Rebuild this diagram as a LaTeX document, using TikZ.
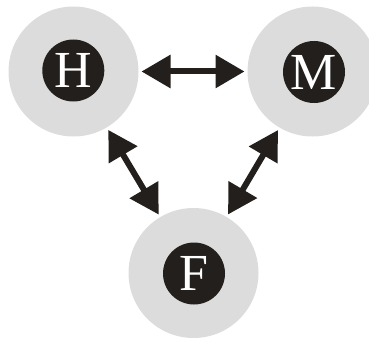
\documentclass[tikz,border=0pt]{standalone}
\usepackage{fontspec}
\setmainfont{Liberation Serif}
\usetikzlibrary{arrows.meta}
\definecolor{ringgray}{HTML}{DCDCDC}
\definecolor{inkdark}{HTML}{231F1C}
\begin{document}
\begin{tikzpicture}[x=1pt,y=1pt,
  ring/.style={circle, fill=ringgray, minimum size=130pt, inner sep=0pt, outer sep=3pt},
  core/.style={circle, fill=inkdark, minimum size=62pt, inner sep=0pt, text=white,
    font=\fontsize{52}{52}\selectfont},
  link/.style={line width=6pt, draw=inkdark,
    {Triangle[length=29pt,width=32pt]}-{Triangle[length=29pt,width=32pt]}}
]
\useasboundingbox (0,0) rectangle (369,338);
\clip (0,0) rectangle (369,338);
\node[ring] (H) at (73.5,266.5) {};
\node[ring] (M) at (312.5,266.5) {};
\node[ring] (F) at (193.5,65) {};
\node[core] (Hc) at (73.3,267.5) {H};
\node[core] (Mc) at (314,266) {M};
\node[core] (Fc) at (194,64.5) {F};
\draw[link] (H) -- (M);
\draw[link] (H) -- (F);
\draw[link] (M) -- (F);
\end{tikzpicture}
\end{document}
